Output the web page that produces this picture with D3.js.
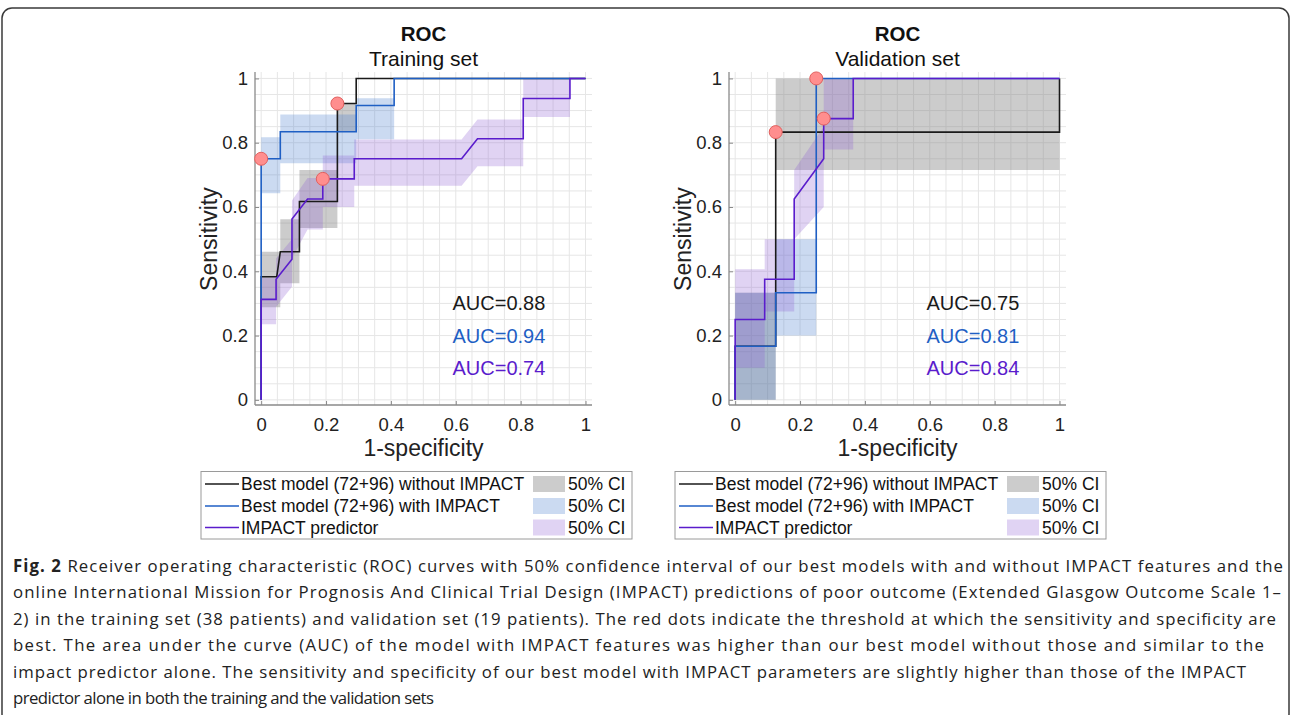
<!DOCTYPE html>
<html lang="en">
<head>
<meta charset="utf-8">
<title>ROC</title>
<script src="https://d3js.org/d3.v7.min.js"></script>
<style>
  body { margin: 0; background: #fff; }
  svg text { font-family: "Liberation Sans", Arial, sans-serif; }
</style>
</head>
<body>
<svg id="chart" width="1292" height="715"></svg>
<script>
// ---- data ----
const axisTicks = [0, 0.2, 0.4, 0.6, 0.8, 1];
const seriesNames = ["Best model (72+96) without IMPACT", "Best model (72+96) with IMPACT", "IMPACT predictor"];
const seriesColors = ["#1a1a1a", "#1f5fc4", "#5a1ccc"];
const bandColors = ["#7f7f7f", "#3f78cc", "#8c5cd2"];

// training set
const trainWithout = [[0,0],[0,0.383],[0.048,0.383],[0.059,0.461],[0.118,0.461],[0.118,0.617],[0.235,0.617],[0.235,0.922],[0.293,0.922],[0.293,1],[1,1]];
const trainWith = [[0,0],[0,0.75],[0.059,0.75],[0.059,0.834],[0.293,0.834],[0.293,0.916],[0.41,0.916],[0.41,1],[1,1]];
const trainImpact = [[0,0],[0,0.3125],[0.046,0.3125],[0.046,0.375],[0.095,0.4375],[0.095,0.5625],[0.143,0.625],[0.19,0.625],[0.19,0.6875],[0.287,0.6875],[0.287,0.75],[0.618,0.75],[0.667,0.8125],[0.808,0.8125],[0.808,0.9375],[0.952,0.9375],[0.952,1],[1,1]];
const trainWithoutUp = [[0,0.461],[0.059,0.461],[0.059,0.562],[0.118,0.562],[0.118,0.715],[0.235,0.715],[0.235,0.922],[0.293,0.922],[0.293,1],[1,1]];
const trainWithoutLo = [[0,0.288],[0.059,0.288],[0.059,0.363],[0.118,0.363],[0.118,0.535],[0.235,0.535],[0.235,0.833],[0.293,0.833],[0.293,1],[1,1]];
const trainWithUp = [[0,0.817],[0.059,0.817],[0.059,0.888],[0.293,0.888],[0.293,0.938],[0.41,0.938],[0.41,1],[1,1]];
const trainWithLo = [[0,0.643],[0.059,0.643],[0.059,0.736],[0.293,0.736],[0.293,0.811],[0.41,0.811],[0.41,1],[1,1]];
const trainImpactUp = [[0,0.38],[0.046,0.38],[0.046,0.44],[0.095,0.5],[0.095,0.62],[0.143,0.69],[0.19,0.69],[0.19,0.76],[0.287,0.76],[0.287,0.81],[0.618,0.81],[0.667,0.872],[0.808,0.872],[0.808,1],[1,1]];
const trainImpactLo = [[0,0.235],[0.046,0.235],[0.046,0.29],[0.095,0.352],[0.095,0.44],[0.143,0.53],[0.19,0.53],[0.19,0.6],[0.287,0.6],[0.287,0.666],[0.618,0.666],[0.667,0.727],[0.808,0.727],[0.808,0.88],[0.952,0.88],[0.952,1],[1,1]];
const trainBest = [[0.235,0.922],[0,0.75],[0.19,0.6875]];
const trainAuc = ["0.88", "0.94", "0.74"];

// validation set
const validWithout = [[0,0],[0,0.167],[0.125,0.167],[0.125,0.833],[1,0.833],[1,1]];
const validWith = [[0,0],[0,0.167],[0.125,0.167],[0.125,0.333],[0.25,0.333],[0.25,1],[1,1]];
const validImpact = [[0,0],[0,0.25],[0.091,0.25],[0.091,0.375],[0.182,0.375],[0.182,0.625],[0.273,0.75],[0.273,0.875],[0.364,0.875],[0.364,1],[1,1]];
const validWithoutUp = [[0,0.333],[0.125,0.333],[0.125,1],[1,1]];
const validWithoutLo = [[0,0],[0.125,0],[0.125,0.715],[1,0.715]];
const validWithUp = [[0,0.333],[0.125,0.333],[0.125,0.5],[0.25,0.5],[0.25,1],[1,1]];
const validWithLo = [[0,0],[0.125,0],[0.125,0.2],[0.25,0.2],[0.25,1],[1,1]];
const validImpactUp = [[0,0.406],[0.091,0.406],[0.091,0.5],[0.182,0.5],[0.182,0.715],[0.273,0.85],[0.273,1],[0.364,1],[1,1]];
const validImpactLo = [[0,0.1],[0.091,0.1],[0.091,0.275],[0.182,0.275],[0.182,0.5],[0.273,0.6],[0.273,0.779],[0.364,0.779],[0.364,1],[1,1]];
const validBest = [[0.125,0.833],[0.25,1],[0.273,0.875]];
const validAuc = ["0.75", "0.81", "0.84"];

const captionLines = [
  "Receiver operating characteristic (ROC) curves with 50% confidence interval of our best models with and without IMPACT features and the",
  "online International Mission for Prognosis And Clinical Trial Design (IMPACT) predictions of poor outcome (Extended Glasgow Outcome Scale 1–",
  "2) in the training set (38 patients) and validation set (19 patients). The red dots indicate the threshold at which the sensitivity and specificity are",
  "best. The area under the curve (AUC) of the model with IMPACT features was higher than our best model without those and similar to the",
  "impact predictor alone. The sensitivity and specificity of our best model with IMPACT parameters are slightly higher than those of the IMPACT",
  "predictor alone in both the training and the validation sets"
];
const captionEnds = [1283, 1281, 1276, 1264, 1246, 434];

const svg = d3.select("#chart");

// outer frame
svg.append("rect")
  .attr("x", 2).attr("y", 8).attr("width", 1287).attr("height", 716)
  .attr("rx", 10).attr("fill", "none").attr("stroke", "#3a3a3a").attr("stroke-width", 1.5);

function drawPanel(left, subtitle, curves, ups, los, best, aucs) {
  const x = d3.scaleLinear().domain([-0.019, 1.02]).range([left, left + 337]);
  const y = d3.scaleLinear().domain([-0.016, 1.02]).range([405, 72]);
  const g = svg.append("g");

  // grid
  const gridVals = d3.range(0, 21).map(i => i * 0.05);
  g.append("g").selectAll("line").data(gridVals).join("line")
    .attr("x1", d => x(d)).attr("x2", d => x(d)).attr("y1", y(-0.016)).attr("y2", y(1.02))
    .attr("stroke", "#e6e6e6").attr("stroke-width", 1);
  g.append("g").selectAll("line").data(gridVals).join("line")
    .attr("y1", d => y(d)).attr("y2", d => y(d)).attr("x1", x(-0.019)).attr("x2", x(1.02))
    .attr("stroke", "#e6e6e6").attr("stroke-width", 1);

  // axes
  const xAxis = d3.axisBottom(x).tickValues(axisTicks).tickSize(-4).tickPadding(13)
    .tickFormat(d3.format("~g"));
  const yAxis = d3.axisLeft(y).tickValues(axisTicks).tickSize(-4).tickPadding(7)
    .tickFormat(d3.format("~g"));
  const gx = g.append("g").attr("transform", `translate(0,405)`).call(xAxis);
  const gy = g.append("g").attr("transform", `translate(${left},0)`).call(yAxis);
  [gx, gy].forEach(a => {
    a.select(".domain").attr("stroke", "#8a8a8a").attr("stroke-width", 1.3);
    a.selectAll(".tick line").attr("stroke", "#8a8a8a");
    a.selectAll(".tick text").attr("font-size", 18.5).attr("fill", "#222");
  });
  gx.select(".domain").attr("d", `M${left},0H${left + 337}`);
  gy.select(".domain").attr("d", `M0,405V72`);

  // bands
  const line = d3.line().x(d => x(d[0])).y(d => y(d[1]));
  ups.forEach((u, i) => {
    const poly = u.concat(los[i].slice().reverse());
    g.append("path").attr("d", line(poly) + "Z")
      .attr("fill", bandColors[i]).attr("fill-opacity", i === 0 ? 0.4 : 0.27).attr("stroke", "none");
  });

  // curves
  curves.forEach((c, i) => {
    g.append("path").attr("d", line(c))
      .attr("fill", "none").attr("stroke", seriesColors[i]).attr("stroke-width", 1.6);
  });

  // best thresholds
  g.append("g").selectAll("circle").data(best).join("circle")
    .attr("cx", d => x(d[0])).attr("cy", d => y(d[1])).attr("r", 6.5)
    .attr("fill", "#ff8e8e").attr("stroke", "#e2605e").attr("stroke-width", 1);

  // AUC labels
  g.append("g").selectAll("text").data(aucs).join("text")
    .attr("x", x(0.59)).attr("y", (d, i) => y(0.3 - i * 0.1))
    .attr("dy", "0.35em").attr("font-size", 20)
    .attr("fill", (d, i) => seriesColors[i])
    .text(d => "AUC=" + d);

  // titles
  const cx = left + 168.5;
  g.append("text").attr("x", cx).attr("y", 41).attr("text-anchor", "middle")
    .attr("font-size", 20.5).attr("font-weight", "bold").attr("fill", "#111").text("ROC");
  g.append("text").attr("x", cx).attr("y", 66).attr("text-anchor", "middle")
    .attr("font-size", 21).attr("fill", "#111").text(subtitle);
  g.append("text").attr("x", cx).attr("y", 456).attr("text-anchor", "middle")
    .attr("font-size", 23).attr("fill", "#222").text("1-specificity");
  g.append("text").attr("transform", `translate(${left - 38},${y(0.5)}) rotate(-90)`)
    .attr("text-anchor", "middle").attr("font-size", 23).attr("fill", "#222").text("Sensitivity");

  // legend
  const lx = left - 54;
  const lg = g.append("g");
  lg.append("rect").attr("x", lx).attr("y", 471.5).attr("width", 431).attr("height", 67.5)
    .attr("fill", "#fff").attr("stroke", "#9a9a9a").attr("stroke-width", 1);
  const rows = [484, 506, 527.5];
  seriesNames.forEach((name, i) => {
    lg.append("line").attr("x1", lx + 4).attr("x2", lx + 38).attr("y1", rows[i]).attr("y2", rows[i])
      .attr("stroke", seriesColors[i]).attr("stroke-width", 1.6);
    lg.append("text").attr("x", lx + 40).attr("y", rows[i]).attr("dy", "0.35em")
      .attr("font-size", 17.5).attr("fill", "#111").text(name);
    lg.append("rect").attr("x", lx + 332).attr("y", rows[i] - 8).attr("width", 32).attr("height", 16)
      .attr("fill", bandColors[i]).attr("fill-opacity", i === 0 ? 0.4 : 0.27);
    lg.append("text").attr("x", lx + 367).attr("y", rows[i]).attr("dy", "0.35em")
      .attr("font-size", 17.5).attr("fill", "#111").text("50% CI");
  });
}

drawPanel(255, "Training set", [trainWithout, trainWith, trainImpact],
  [trainWithoutUp, trainWithUp, trainImpactUp], [trainWithoutLo, trainWithLo, trainImpactLo], trainBest, trainAuc);
drawPanel(729, "Validation set", [validWithout, validWith, validImpact],
  [validWithoutUp, validWithUp, validImpactUp], [validWithoutLo, validWithLo, validImpactLo], validBest, validAuc);

// caption: one common horizontal squeeze for the glyphs, spacing fitted per line
const cap = svg.append("g");
const capTexts = captionLines.map((t, i) => {
  const txt = cap.append("text").attr("x", 0).attr("y", 572 + i * 26.5)
    .attr("font-size", 17).attr("fill", "#222")
    .style("font-family", "'Open Sans', 'Noto Sans', sans-serif");
  if (i === 0) txt.append("tspan").attr("font-weight", "bold").text("Fig. 2 ");
  txt.append("tspan").text(t);
  return txt;
});
const widths = capTexts.map(t => t.node().getComputedTextLength());
const ratios = widths.map((w, i) => (captionEnds[i] - 13) / w);
const squeeze = 0.35 * d3.mean(ratios.slice(0, 5)) + 0.65 * ratios[5];
cap.attr("transform", `translate(13,0) scale(${squeeze},1)`);
capTexts.forEach((txt, i) => {
  txt.attr("textLength", (captionEnds[i] - 13) / squeeze).attr("lengthAdjust", "spacing");
});
</script>
</body>
</html>
